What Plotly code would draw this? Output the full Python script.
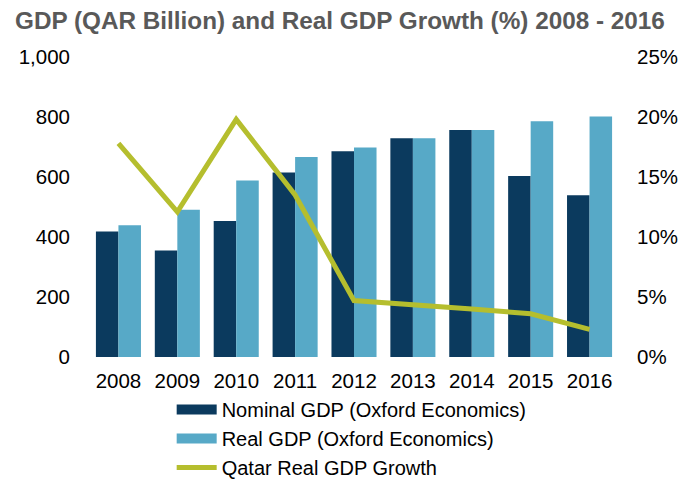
import plotly.graph_objects as go

years = ["2008", "2009", "2010", "2011", "2012", "2013", "2014", "2015", "2016"]
nominal_gdp = [418, 355, 453, 615, 686, 729, 757, 603, 539]
real_gdp = [439, 491, 588, 667, 698, 729, 757, 786, 802]
real_growth = [17.8, 12.1, 19.8, 13.5, 4.7, 4.4, 4.0, 3.6, 2.3]
left_ticks = [0, 200, 400, 600, 800, 1000]
right_ticks = [0, 5, 10, 15, 20, 25]
right_tick_text = ["0%", "5%", "10%", "15%", "20%", "25%"]

DARK = "#0b3a5e"
LIGHT = "#57a9c7"
GREEN = "#b5be2e"
FONT = "Liberation Sans, Arial, sans-serif"

fig = go.Figure()
fig.add_trace(go.Bar(x=years, y=nominal_gdp, name="Nominal GDP (Oxford Economics)",
                     marker=dict(color=DARK, line=dict(width=0)), showlegend=False))
fig.add_trace(go.Bar(x=years, y=real_gdp, name="Real GDP (Oxford Economics)",
                     marker=dict(color=LIGHT, line=dict(width=0)), showlegend=False))
fig.add_trace(go.Scatter(x=years, y=real_growth, name="Qatar Real GDP Growth", yaxis="y2",
                         mode="lines", line=dict(color=GREEN, width=5), showlegend=False))

# legend-only entries
fig.add_trace(go.Scatter(x=[None], y=[None], mode="lines", name="Nominal GDP (Oxford Economics)",
                         line=dict(color=DARK, width=11)))
fig.add_trace(go.Scatter(x=[None], y=[None], mode="lines", name="Real GDP (Oxford Economics)",
                         line=dict(color=LIGHT, width=11)))
fig.add_trace(go.Scatter(x=[None], y=[None], mode="lines", name="Qatar Real GDP Growth",
                         line=dict(color=GREEN, width=5)))

fig.update_layout(
    width=699, height=479,
    margin=dict(l=81, r=87.5, t=49, b=130, autoexpand=False),
    paper_bgcolor="white", plot_bgcolor="white",
    font=dict(family=FONT, size=20.5, color="black"),
    title=dict(text="<b>GDP (QAR Billion) and Real GDP Growth (%) 2008 - 2016</b>",
               x=0.01, xanchor="left", y=0.973, yanchor="middle",
               font=dict(family=FONT, size=24.3, color="#595959")),
    barmode="group", bargap=0.235, bargroupgap=0,
    xaxis=dict(type="category", showgrid=False, showline=False, zeroline=False,
               ticks="", ticklabelstandoff=9, tickfont=dict(size=20.5), automargin=False),
    yaxis=dict(range=[0, 1000], tickmode="array", tickvals=left_ticks, tickformat=",",
               showgrid=False, zeroline=False, showline=False, ticks="",
               ticklabelstandoff=18, tickfont=dict(size=20.5), automargin=False),
    yaxis2=dict(range=[0, 25], tickmode="array", tickvals=right_ticks, ticktext=right_tick_text,
                overlaying="y", side="right", showgrid=False, zeroline=False,
                showline=False, ticks="", ticklabelstandoff=17, tickfont=dict(size=20.5),
                automargin=False),
    legend=dict(x=0.156, xanchor="left", y=-0.11, yanchor="top", orientation="v",
                font=dict(size=20), tracegroupgap=0, itemwidth=40,
                bgcolor="rgba(0,0,0,0)"),
)

fig.write_html("out.html")
